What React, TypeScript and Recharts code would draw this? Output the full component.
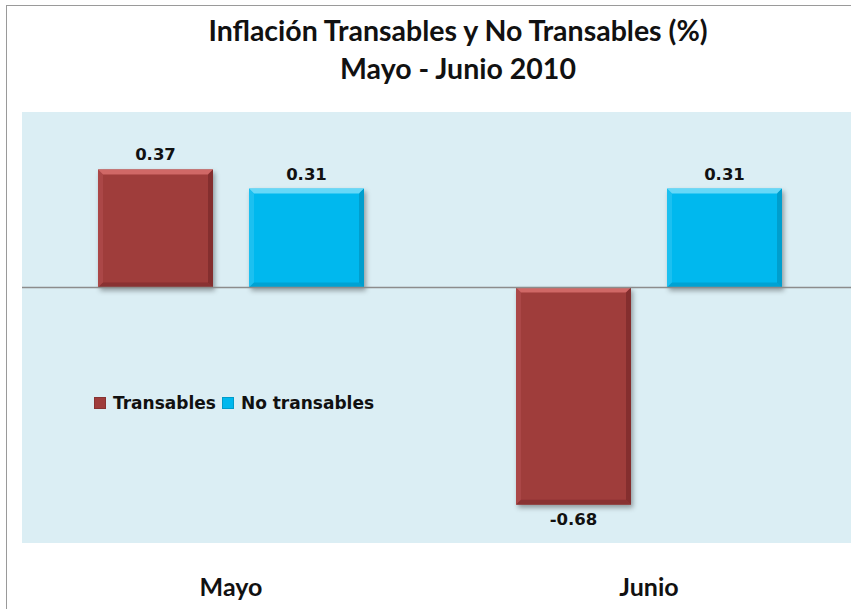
import { BarChart, Bar, XAxis, YAxis, CartesianGrid, Legend, LabelList, ReferenceLine } from "recharts";

const months = ["Mayo", "Junio"];
const transables = [0.37, -0.68];
const noTransables = [0.31, 0.31];

const data = months.map((m, i) => ({ month: m, transables: transables[i], noTransables: noTransables[i] }));

const FONT = 'Lato, "Open Sans", sans-serif';
const SMALL_FONT = '"DejaVu Sans", Verdana, sans-serif';

const palette: Record<string, { base: string; light: string; dark: string }> = {
  "#9f3c3b": { base: "#9f3c3b", light: "#d06766", dark: "#732625" },
  "#00b8ee": { base: "#00b8ee", light: "#66d8f8", dark: "#008cb8" },
};

function BevelBar(props: any) {
  const { x, y, width, height, fill } = props;
  const top = height < 0 ? y + height : y;
  const h = Math.abs(height);
  const w = width;
  const b = 5;
  const c = palette[fill] || { base: fill, light: fill, dark: fill };
  return (
    <g filter="url(#barShadow)">
      <rect x={x} y={top} width={w} height={h} fill={c.base} />
      <polygon points={`${x},${top} ${x + w},${top} ${x + w - b},${top + b} ${x + b},${top + b}`} fill={c.light} />
      <polygon points={`${x},${top} ${x + b},${top + b} ${x + b},${top + h - b} ${x},${top + h}`} fill={c.light} opacity={0.25} />
      <polygon points={`${x + w},${top} ${x + w},${top + h} ${x + w - b},${top + h - b} ${x + w - b},${top + b}`} fill={c.dark} opacity={0.6} />
      <polygon points={`${x},${top + h} ${x + w},${top + h} ${x + w - b},${top + h - b} ${x + b},${top + h - b}`} fill={c.dark} opacity={0.5} />
    </g>
  );
}

function LegendBox() {
  const items = [
    { label: "Transables", color: "#9f3c3b" },
    { label: "No transables", color: "#00b8ee" },
  ];
  return (
    <div style={{ display: "flex", alignItems: "center", fontFamily: SMALL_FONT, fontWeight: 700, fontSize: 17, color: "#111" }}>
      {items.map((it) => (
        <div key={it.label} style={{ display: "flex", alignItems: "center", marginRight: 6 }}>
          <span style={{ display: "inline-block", width: 12, height: 12, background: it.color, marginRight: 7, boxShadow: "inset 0 0 0 1px rgba(0,0,0,0.15)" }} />
          <span>{it.label}</span>
        </div>
      ))}
    </div>
  );
}

function MonthTick(props: any) {
  const { x, y, payload } = props;
  return (
    <text x={x} y={y + 51} textAnchor="middle" fontFamily={FONT} fontWeight={700} fontSize={25} fill="#111">
      {payload.value}
    </text>
  );
}

const labelStyle = { fontFamily: SMALL_FONT, fontWeight: 700, fontSize: 16.5, fill: "#111" };

export default function App() {
  return (
    <div style={{ position: "absolute", left: 0, top: 0, width: 851, height: 609, overflow: "hidden", background: "#fff" }}>
      <div style={{ position: "absolute", left: 6, top: 5, width: 1000, height: 1000, border: "1px solid #9a9a9a" }} />
      <div style={{ position: "absolute", left: 0, top: 0, width: 916, textAlign: "center", fontFamily: FONT, fontWeight: 700, fontSize: 28.5, color: "#111", lineHeight: "38px", paddingTop: 11 }}>
        <div>Inflación Transables y No Transables (%)</div>
        <div>Mayo - Junio 2010</div>
      </div>
      <div style={{ position: "absolute", left: 0, top: 0 }}>
        <BarChart width={870} height={609} data={data} margin={{ top: 112, right: 12, bottom: 0, left: 22 }} barSize={115} barGap={36}>
          <defs>
            <filter id="barShadow" x="-10%" y="-10%" width="125%" height="125%">
              <feDropShadow dx="2" dy="3" stdDeviation="2.5" floodColor="#000" floodOpacity="0.35" />
            </filter>
          </defs>
          <CartesianGrid vertical={false} horizontal={false} fill="#dbeef4" fillOpacity={1} />
          <XAxis dataKey="month" axisLine={false} tickLine={false} tickSize={0} height={66} tick={<MonthTick />} />
          <YAxis domain={[-0.8, 0.55]} ticks={[0]} tick={false} tickLine={false} width={0} axisLine={{ stroke: "#8c8c8c" }} allowDataOverflow />
          <ReferenceLine y={0} stroke="#8c8c8c" strokeWidth={1.5} />
          <Legend layout="horizontal" verticalAlign="middle" align="center" content={<LegendBox />} wrapperStyle={{ left: 94, top: 393, width: "auto" }} />
          <Bar dataKey="transables" name="Transables" fill="#9f3c3b" shape={<BevelBar />} isAnimationActive={false}>
            <LabelList dataKey="transables" position="top" offset={9} formatter={(v: any) => Number(v).toFixed(2)} style={labelStyle} />
          </Bar>
          <Bar dataKey="noTransables" name="No transables" fill="#00b8ee" shape={<BevelBar />} isAnimationActive={false}>
            <LabelList dataKey="noTransables" position="top" offset={9} formatter={(v: any) => Number(v).toFixed(2)} style={labelStyle} />
          </Bar>
        </BarChart>
      </div>
    </div>
  );
}
